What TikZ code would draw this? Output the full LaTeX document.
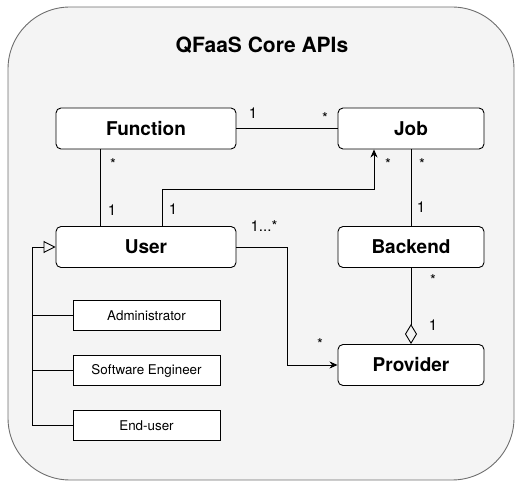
\documentclass[tikz,border=0pt]{standalone}
\usepackage{fontspec}
\setmainfont{TeX Gyre Heros}
\usetikzlibrary{arrows.meta}
\definecolor{panel}{HTML}{F4F4F4}
\definecolor{panelline}{HTML}{6E6E6E}

\begin{document}
\begin{tikzpicture}[x=1pt,y=-1pt,line width=0.9pt,
    class/.style={draw, rounded corners=5pt, fill=white, minimum height=41,
        font=\fontsize{19}{22}\selectfont\bfseries},
    role/.style={draw, fill=white, minimum width=147, minimum height=29.5,
        font=\fontsize{13.4}{16}\selectfont},
    mult/.style={inner sep=0pt, text height=0.7em, text depth=0pt,
        font=\fontsize{15}{18}\selectfont},
    assoc/.style={-{Stealth[length=8pt,width=7pt,inset=2.5pt]}}]
    \useasboundingbox (0,0) rectangle (515,481);
    % frame
    \draw[panelline, fill=panel, rounded corners=62pt] (8,7) rectangle (514,480);
    \node[font=\fontsize{21}{25}\selectfont\bfseries] (title) at (262,45) {QFaaS Core APIs};

    % classes
    \node[class, minimum width=180] (function) at (146,128.5) {Function};
    \node[class, minimum width=146] (job) at (411,128.5) {Job};
    \node[class, minimum width=180] (user) at (146,247) {User};
    \node[class, minimum width=146] (backend) at (411,247) {Backend};
    \node[class, minimum width=146] (provider) at (411,365) {Provider};

    % user roles
    \node[role] (admin) at (146.5,315.3) {Administrator};
    \node[role] (engineer) at (146.5,370.5) {Software Engineer};
    \node[role] (enduser) at (146.5,425.7) {End-user};

    % associations
    \draw (function) -- (job);
    \node[mult] (fj1) at (253,115) {1};
    \node[mult] (fj2) at (325,120) {*};

    \draw ([xshift=-45.3]function.south) -- ([xshift=-45.3]user.north);
    \node[mult] (fu1) at (113,166) {*};
    \node[mult] (fu2) at (112,212) {1};

    \coordinate (bend) at (374,189);
    \draw[assoc] ([xshift=16]user.north) |- (bend) -- ([xshift=-37]job.south);
    \node[mult] (uj1) at (173,211) {1};
    \node[mult] (uj2) at (388,166) {*};

    \draw (job) -- (backend);
    \node[mult] (jb1) at (422,166) {*};
    \node[mult] (jb2) at (421,209) {1};

    \draw[assoc] (user.east) -- ++(51,0) |- (provider.west);
    \node[mult] (up1) at (264,228) {1...*};
    \node[mult] (up2) at (320,346) {*};

    \draw[-{Diamond[open,length=20pt,width=12pt]}] (backend) -- (provider);
    \node[mult] (bp1) at (433,282) {*};
    \node[mult] (bp2) at (433,327) {1};

    % generalization
    \draw[-{Triangle[open,length=12pt,width=12pt]}] (enduser.west) -- ++(-40,0) |- (user.west);
    \draw (admin.west) -- ++(-40,0);
    \draw (engineer.west) -- ++(-40,0);
\end{tikzpicture}
\end{document}
